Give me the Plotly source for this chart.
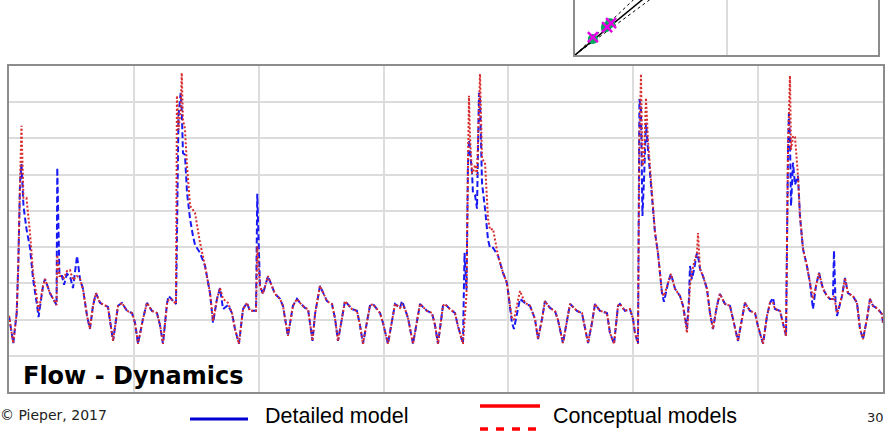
import plotly.graph_objects as go

# ---- main chart data (time in hours, flow in grid units) ----
hours = [0, 4.1, 7.4, 8.9, 10.6, 12.0, 13.9, 16.8, 20.2, 23.1, 26.9, 28.4, 32.7, 34.6, 39.4, 44.2, 45.7, 46.4,
         48.5, 50.9, 52.9, 55.7, 58.6, 61.5, 65.4, 68.2, 71.1, 75.0, 77.8, 80.7, 83.6, 87.5, 92.3, 95.1, 100.0,
         104.8, 108.6, 113.4, 118.2, 121.1, 124.0, 128.8, 132.6, 137.4, 142.2, 145.1, 148.0, 151.8, 153.3, 155.7,
         159.5, 160.5, 161.4, 162.9, 165.0, 166.0, 167.2, 169.1, 171.1, 174.0, 176.8, 178.8, 183.6, 188.4, 193.2,
         196.1, 199.9, 202.8, 205.7, 210.5, 214.3, 217.2, 221.0, 224.9, 228.7, 231.6, 237.4, 238.6, 241.2, 244.1,
         248.9, 252.8, 255.6, 260.5, 263.3, 268.1, 272.9, 276.8, 279.7, 284.5, 287.4, 291.7, 294.1, 298.9, 305.6,
         310.4, 313.3, 316.2, 322.9, 329.6, 334.4, 337.3, 340.2, 346.9, 349.8, 356.6, 359.4, 364.2, 371.0, 375.8,
         377.7, 380.6, 383.5, 388.3, 395.0, 401.7, 406.5, 409.4, 412.3, 417.1, 419.0, 423.8, 428.6, 431.5, 436.3,
         437.8, 439.7, 441.1, 442.1, 443.0, 445.0, 445.9, 447.9, 449.8, 451.7, 452.7, 454.6, 457.5, 460.4, 462.3,
         465.2, 470.0, 474.8, 478.6, 481.5, 483.4, 485.3, 488.2, 491.1, 495.9, 500.7, 505.5, 508.4, 512.3, 515.1,
         519.9, 524.7, 527.6, 532.4, 539.2, 545.9, 550.7, 553.6, 556.5, 560.3, 563.2, 568.0, 574.7, 577.6, 581.5,
         585.3, 587.2, 592.0, 596.8, 599.7, 601.6, 604.5, 605.9, 607.4, 608.8, 610.3, 612.2, 614.1, 618.0, 620.9,
         623.7, 625.7, 627.6, 629.5, 633.4, 636.2, 640.1, 644.9, 647.8, 651.6, 653.5, 654.5, 656.4, 658.3, 661.2,
         662.2, 664.1, 667.0, 670.8, 673.7, 676.6, 680.4, 683.3, 688.1, 692.9, 695.8, 700.6, 704.5, 707.3, 712.2,
         717.0, 719.8, 724.7, 728.5, 731.4, 734.3, 736.2, 741.0, 743.9, 746.8, 748.7, 749.6, 750.6, 751.6, 753.5,
         755.4, 758.3, 760.2, 763.1, 766.9, 769.8, 772.7, 775.6, 778.5, 782.3, 786.2, 789.0, 791.9, 792.9, 794.3,
         795.8, 800.6, 803.5, 806.3, 811.1, 815.0, 817.9, 820.8, 824.6, 827.5, 830.4, 835.2, 839.0, 840.0]

detailed = [2.10, 1.35, 2.18, 3.48, 5.77, 6.30, 5.14, 4.50, 3.98, 3.12, 2.40, 2.07, 2.93, 3.12, 2.73, 2.46, 2.40, 6.19,
            3.20, 3.20, 2.96, 3.26, 3.20, 2.87, 3.76, 3.12, 2.85, 2.10, 1.74, 2.38, 2.73, 2.46, 2.38, 2.35, 1.41,
            2.38, 2.46, 2.24, 2.18, 1.91, 1.33, 2.02, 2.46, 2.24, 2.18, 1.85, 1.33, 2.43, 2.65, 2.57,
            2.46, 2.43, 4.23, 7.62, 8.26, 7.79, 6.60, 6.55, 5.50, 4.78, 4.31, 4.06, 3.84, 3.48, 2.73,
            1.91, 2.57, 2.87, 2.29, 2.40, 2.18, 1.74, 1.33, 2.29, 2.46, 2.24, 2.24, 5.47, 2.93, 2.71,
            3.20, 2.93, 2.71, 2.57, 2.38, 1.55, 2.38, 2.57, 2.46, 2.32, 2.29, 1.41, 2.15, 2.93, 2.51,
            2.43, 2.04, 1.41, 2.51, 2.29, 2.24, 1.85, 1.33, 2.38, 2.43, 2.18, 1.91, 1.33, 2.43, 2.32,
            2.51, 2.29, 2.04, 1.33, 2.43, 2.24, 2.18, 1.85, 1.33, 2.38, 2.43, 2.29, 2.18, 1.82, 1.33,
            3.84, 2.82, 6.24, 6.96, 6.71, 6.05, 5.50, 5.44, 5.06, 8.26, 8.07, 5.77, 5.06, 4.20, 3.98,
            3.98, 3.76, 3.29, 3.01, 2.38, 1.91, 1.74, 2.18, 2.57, 2.46, 2.38, 2.02, 1.46, 2.02, 2.51,
            2.32, 2.24, 1.99, 1.35, 2.43, 2.24, 2.18, 1.74, 1.35, 1.91, 2.43, 2.24, 2.18, 1.63, 1.33,
            2.38, 2.43, 2.24, 2.29, 2.02, 1.63, 1.33, 8.09, 7.79, 4.86, 5.86, 7.43, 6.71, 5.33, 4.39,
            3.84, 3.29, 2.73, 2.49, 3.01, 3.26, 2.85, 2.65, 2.38, 1.74, 2.57, 3.48, 3.12, 3.37, 3.84,
            3.76, 3.40, 3.20, 2.85, 2.18, 1.74, 2.38, 2.71, 2.43, 2.38, 2.02, 1.41, 2.02, 2.46, 2.24,
            2.18, 1.82, 1.33, 2.10, 2.46, 2.60, 2.29, 2.24, 1.91, 1.55, 6.69, 7.71, 6.96, 5.14, 6.33,
            5.72, 5.97, 4.86, 3.95, 3.48, 3.01, 2.29, 2.93, 3.29, 2.85, 2.65, 2.57, 2.57, 3.90, 2.54,
            2.10, 2.65, 3.15, 2.73, 2.65, 2.46, 1.74, 1.46, 2.02, 2.57, 2.38, 2.29, 2.15, 1.91]

conceptual = [2.10, 1.35, 2.18, 3.48, 5.77, 7.35, 5.36, 5.36, 4.39, 3.29, 2.57, 2.21, 2.93, 3.12, 2.73, 2.46, 2.40, 3.78,
              3.20, 3.20, 3.15, 3.34, 3.37, 3.09, 3.20, 3.12, 2.85, 2.10, 1.74, 2.38, 2.73, 2.46, 2.38, 2.35, 1.41,
              2.38, 2.46, 2.24, 2.18, 1.91, 1.33, 2.02, 2.46, 2.24, 2.18, 1.85, 1.33, 2.43, 2.54, 2.57,
              2.46, 2.43, 8.18, 7.24, 7.79, 8.81, 7.51, 7.27, 6.24, 5.14, 5.03, 4.94, 4.12, 3.48, 2.73,
              1.96, 2.57, 2.87, 2.57, 2.46, 2.18, 1.74, 1.33, 2.29, 2.46, 2.24, 2.24, 4.03, 2.93, 2.71,
              3.20, 2.93, 2.71, 2.57, 2.38, 1.55, 2.38, 2.57, 2.46, 2.32, 2.29, 1.41, 2.15, 2.93, 2.51,
              2.43, 2.04, 1.41, 2.51, 2.29, 2.24, 1.85, 1.33, 2.38, 2.43, 2.18, 1.91, 1.33, 2.43, 2.32,
              2.43, 2.29, 2.04, 1.33, 2.43, 2.24, 2.18, 1.85, 1.33, 2.38, 2.43, 2.29, 2.18, 1.82, 1.33,
              1.99, 2.68, 6.24, 8.18, 7.07, 6.05, 6.05, 6.27, 5.99, 7.79, 8.78, 6.44, 6.33, 4.78, 4.48,
              4.50, 3.76, 3.29, 3.01, 2.38, 2.04, 1.99, 2.40, 2.79, 2.46, 2.38, 2.02, 1.46, 2.02, 2.51,
              2.32, 2.24, 1.99, 1.35, 2.43, 2.24, 2.18, 1.74, 1.35, 1.91, 2.43, 2.24, 2.18, 1.63, 1.33,
              2.38, 2.43, 2.24, 2.29, 2.02, 1.63, 1.33, 6.96, 8.78, 6.24, 6.41, 8.12, 6.96, 5.33, 4.39,
              3.84, 3.29, 2.73, 2.65, 3.01, 3.26, 2.85, 2.65, 2.38, 1.63, 2.40, 2.96, 3.31, 3.56, 3.84,
              4.39, 3.40, 3.20, 2.85, 2.18, 1.74, 2.38, 2.71, 2.43, 2.38, 2.02, 1.41, 2.02, 2.46, 2.24,
              2.18, 1.82, 1.33, 2.10, 2.46, 2.46, 2.29, 2.24, 1.91, 1.55, 6.69, 8.07, 8.73, 6.69, 7.07,
              7.04, 5.97, 4.86, 3.95, 3.48, 3.01, 2.57, 2.93, 3.29, 2.85, 2.65, 2.57, 2.57, 2.65, 2.40,
              2.18, 2.65, 3.15, 2.73, 2.65, 2.46, 1.74, 1.46, 2.02, 2.57, 2.38, 2.29, 2.15, 1.91]

# ---- inset (validation scatter, partly visible) ----
ref_line_x = [0, 10]
ref_line_y = [0, 10]
band_upper_y = [0, 11.5]
band_lower_y = [0, 9.0]
circle_x = [0.59, 1.02, 1.16]
circle_y = [0.64, 1.12, 1.28]
cross_x = [0.59, 1.06, 1.19]
cross_y = [0.72, 1.12, 1.28]

W, H = 888, 433
def px(x):
    return x / W
def py(y):
    return 1 - y / H

fig = go.Figure()

fig.add_trace(go.Scatter(x=hours, y=detailed, mode="lines", name="Detailed model",
                         line=dict(color="rgb(25,25,245)", width=2, dash="6px,3px"),
                         xaxis="x", yaxis="y", showlegend=False))
fig.add_trace(go.Scatter(x=hours, y=conceptual, mode="lines", name="Conceptual models",
                         line=dict(color="rgb(215,45,45)", width=2, dash="2px,2px"),
                         xaxis="x", yaxis="y", showlegend=False))

# inset traces
fig.add_trace(go.Scatter(x=ref_line_x, y=band_upper_y, mode="lines",
                         line=dict(color="black", width=1, dash="dot"), xaxis="x2", yaxis="y2", showlegend=False))
fig.add_trace(go.Scatter(x=ref_line_x, y=band_lower_y, mode="lines",
                         line=dict(color="black", width=1, dash="dot"), xaxis="x2", yaxis="y2", showlegend=False))
fig.add_trace(go.Scatter(x=ref_line_x, y=ref_line_y, mode="lines",
                         line=dict(color="black", width=1.5), xaxis="x2", yaxis="y2", showlegend=False))
fig.add_trace(go.Scatter(x=circle_x, y=circle_y, mode="markers",
                         marker=dict(color="rgb(0,170,90)", size=10, symbol="circle"),
                         xaxis="x2", yaxis="y2", showlegend=False))
fig.add_trace(go.Scatter(x=cross_x, y=cross_y, mode="markers",
                         marker=dict(color="rgb(230,0,230)", size=10, symbol="x-thin",
                                     line=dict(color="rgb(230,0,230)", width=2.5)),
                         xaxis="x2", yaxis="y2", showlegend=False))

grid = "#dcdcdc"
frame = "#8c8c8c"
narrow = "Liberation Sans, Arial, sans-serif"

fig.update_layout(
    width=W, height=H,
    margin=dict(l=0, r=0, t=0, b=0),
    paper_bgcolor="white", plot_bgcolor="white",
    hovermode=False,
    xaxis=dict(domain=[px(9), px(883)], range=[0, 840], dtick=120, tick0=0,
               showgrid=True, gridcolor=grid, gridwidth=2, showticklabels=False, ticks="",
               zeroline=False, showline=True, linecolor=frame, linewidth=2, mirror=True, anchor="y"),
    yaxis=dict(domain=[py(392), py(66)], range=[0, 9], dtick=1, tick0=0,
               showgrid=True, gridcolor=grid, gridwidth=2, showticklabels=False, ticks="",
               zeroline=False, showline=True, linecolor=frame, linewidth=2, mirror=True, anchor="x"),
    xaxis2=dict(domain=[px(575), px(878)], range=[0, 10], dtick=5, tick0=0,
                showgrid=True, gridcolor=grid, gridwidth=1.5, showticklabels=False, ticks="",
                zeroline=False, showline=True, linecolor=frame, linewidth=2, mirror=False, anchor="y2"),
    yaxis2=dict(domain=[py(55), 1.0], range=[0, 2.21], showgrid=False, showticklabels=False, ticks="",
                zeroline=False, showline=True, linecolor=frame, linewidth=2, mirror=True, anchor="x2"),
    annotations=[
        dict(text="<b>Flow - Dynamics</b>", xref="paper", yref="paper", x=px(21), y=py(376),
             xanchor="left", yanchor="middle", showarrow=False,
             font=dict(family="DejaVu Sans", size=24, color="black")),
        dict(text="© Pieper, 2017", xref="paper", yref="paper", x=px(-2), y=py(415),
             xanchor="left", yanchor="middle", showarrow=False,
             font=dict(family="DejaVu Sans", size=14, color="#222")),
        dict(text="Detailed model", xref="paper", yref="paper", x=px(263), y=py(416),
             xanchor="left", yanchor="middle", showarrow=False,
             font=dict(family=narrow, size=21.5, color="black")),
        dict(text="Conceptual models", xref="paper", yref="paper", x=px(551), y=py(416),
             xanchor="left", yanchor="middle", showarrow=False,
             font=dict(family=narrow, size=21.5, color="black")),
        dict(text="30", xref="paper", yref="paper", x=px(886), y=py(417),
             xanchor="right", yanchor="middle", showarrow=False,
             font=dict(family="DejaVu Sans", size=13, color="#222")),
    ],
    shapes=[
        dict(type="line", xref="paper", yref="paper", x0=px(190), x1=px(248), y0=py(419), y1=py(419),
             line=dict(color="rgb(0,0,210)", width=3)),
        dict(type="line", xref="paper", yref="paper", x0=px(480), x1=px(540), y0=py(406), y1=py(406),
             line=dict(color="rgb(255,0,0)", width=3.5)),
        dict(type="line", xref="paper", yref="paper", x0=px(480), x1=px(540), y0=py(429), y1=py(429),
             line=dict(color="rgb(255,0,0)", width=3.5, dash="8px,8px")),
    ],
)

fig.write_html("out.html", config={"displayModeBar": False},
               post_script="document.body.style.margin='0px';document.body.style.overflow='hidden';")
